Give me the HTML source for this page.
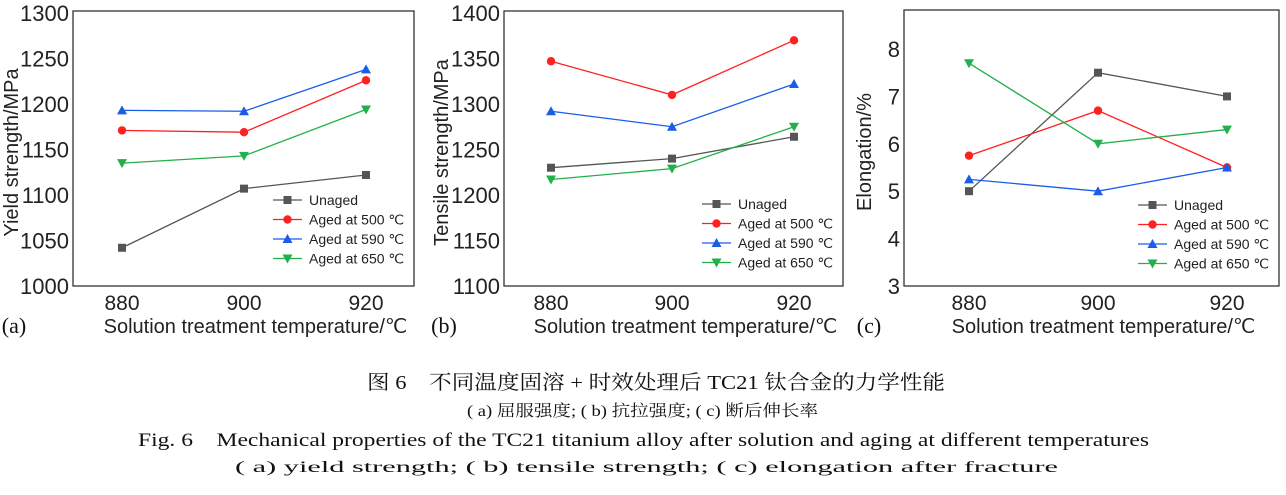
<!DOCTYPE html><html><head><meta charset="utf-8"><style>
body{margin:0;background:#fff;width:1286px;height:495px;overflow:hidden}
svg{position:absolute;left:0;top:0}
.t{font-family:"Liberation Sans",sans-serif;fill:#222}
.c{font-family:"Liberation Serif","Noto Serif CJK SC",serif;fill:#111}
</style></head><body>
<svg id="s" width="1286" height="495" xmlns="http://www.w3.org/2000/svg"></svg>
<script>
const S=document.getElementById('s');let h='';
const cols=['#555555','#ff2020','#1a5ee8','#22b04a'];
const names=['Unaged','Aged at 500 ℃','Aged at 590 ℃','Aged at 650 ℃'];
function mk(k,x,y){const c=cols[k];
 if(k==0)return `<rect x="${x-4}" y="${y-4}" width="8" height="8" fill="${c}"/>`;
 if(k==1)return `<circle cx="${x}" cy="${y}" r="4.2" fill="${c}"/>`;
 if(k==2)return `<polygon points="${x-5},${y+4} ${x+5},${y+4} ${x},${y-5}" fill="${c}"/>`;
 return `<polygon points="${x-5},${y-4} ${x+5},${y-4} ${x},${y+5}" fill="${c}"/>`;}
function chart(o){
 const Y=v=>o.y0+(v-o.v0)*(o.y1-o.y0)/(o.v1-o.v0);
 h+=`<rect x="${o.L}" y="${o.T}" width="${o.R-o.L}" height="${286-o.T}" fill="none" stroke="#333" stroke-width="1.3"/>`;
 o.ticks.forEach(v=>h+=`<text class="t" x="${o.L-4}" y="${Y(v)+8}" font-size="22" text-anchor="end">${v}</text>`);
 [880,900,920].forEach((v,i)=>h+=`<text class="t" x="${o.xs[i]}" y="310" font-size="21" text-anchor="middle">${v}</text>`);
 h+=`<text class="t" x="${(o.L+o.R)/2+12}" y="333" font-size="20" text-anchor="middle">Solution treatment temperature/℃</text>`;
 h+=`<text class="c" x="${o.lab[0]}" y="333" font-size="22" text-anchor="middle">${o.lab[1]}</text>`;
 h+=`<text class="t" transform="translate(${o.yl},${(o.T+286)/2+4}) rotate(-90)" font-size="20" text-anchor="middle">${o.ylab}</text>`;
 o.d.forEach((s,k)=>{h+=`<polyline points="${s.map((v,i)=>o.xs[i]+','+Y(v)).join(' ')}" fill="none" stroke="${cols[k]}" stroke-width="1.3"/>`;
  s.forEach((v,i)=>h+=mk(k,o.xs[i],Y(v)));});
 names.forEach((n,k)=>{const y=o.lg[1]+k*19.5;h+=`<line x1="${o.lg[0]}" x2="${o.lg[0]+29}" y1="${y}" y2="${y}" stroke="${cols[k]}" stroke-width="1.3"/>`+mk(k,o.lg[0]+14.5,y)+`<text class="t" x="${o.lg[0]+36}" y="${y+5}" font-size="14">${n}</text>`;});
}
chart({L:73,R:414,T:11,y0:13,y1:286,v0:1300,v1:1000,ticks:[1000,1050,1100,1150,1200,1250,1300],xs:[122,244,366],lab:[14,'(a)'],yl:18,ylab:'Yield strength/MPa',lg:[273,200],
 d:[[1042,1107,1122],[1171,1169,1226],[1193,1192,1238],[1135,1143,1194]]});
chart({L:504,R:843,T:11,y0:13,y1:286,v0:1400,v1:1100,ticks:[1100,1150,1200,1250,1300,1350,1400],xs:[551,672,794],lab:[444,'(b)'],yl:448,ylab:'Tensile strength/MPa',lg:[702,204],
 d:[[1230,1240,1264],[1347,1310,1370],[1292,1275,1322],[1217,1229,1275]]});
chart({L:904,R:1279,T:10,y0:49,y1:286,v0:8,v1:3,ticks:[3,4,5,6,7,8],xs:[969,1098,1227],lab:[869,'(c)'],yl:871,ylab:'Elongation/%',lg:[1138,205],
 d:[[5,7.5,7],[5.75,6.7,5.5],[5.25,5,5.5],[7.7,6,6.3]]});
h+=`<text class="c" x="367" y="389" font-size="20" textLength="578" lengthAdjust="spacingAndGlyphs">图 6　不同温度固溶 + 时效处理后 TC21 钛合金的力学性能</text>`;
h+=`<text class="c" x="467" y="416" font-size="16" textLength="351" lengthAdjust="spacingAndGlyphs">( a) 屈服强度; ( b) 抗拉强度; ( c) 断后伸长率</text>`;
h+=`<text class="c" x="138" y="446" font-size="19" textLength="1011" lengthAdjust="spacingAndGlyphs">Fig. 6　Mechanical properties of the TC21 titanium alloy after solution and aging at different temperatures</text>`;
h+=`<text class="c" x="235" y="472" font-size="16" textLength="823" lengthAdjust="spacingAndGlyphs">( a)  yield strength;  ( b)  tensile strength;  ( c)  elongation after fracture</text>`;
S.innerHTML=h;
</script></body></html>
